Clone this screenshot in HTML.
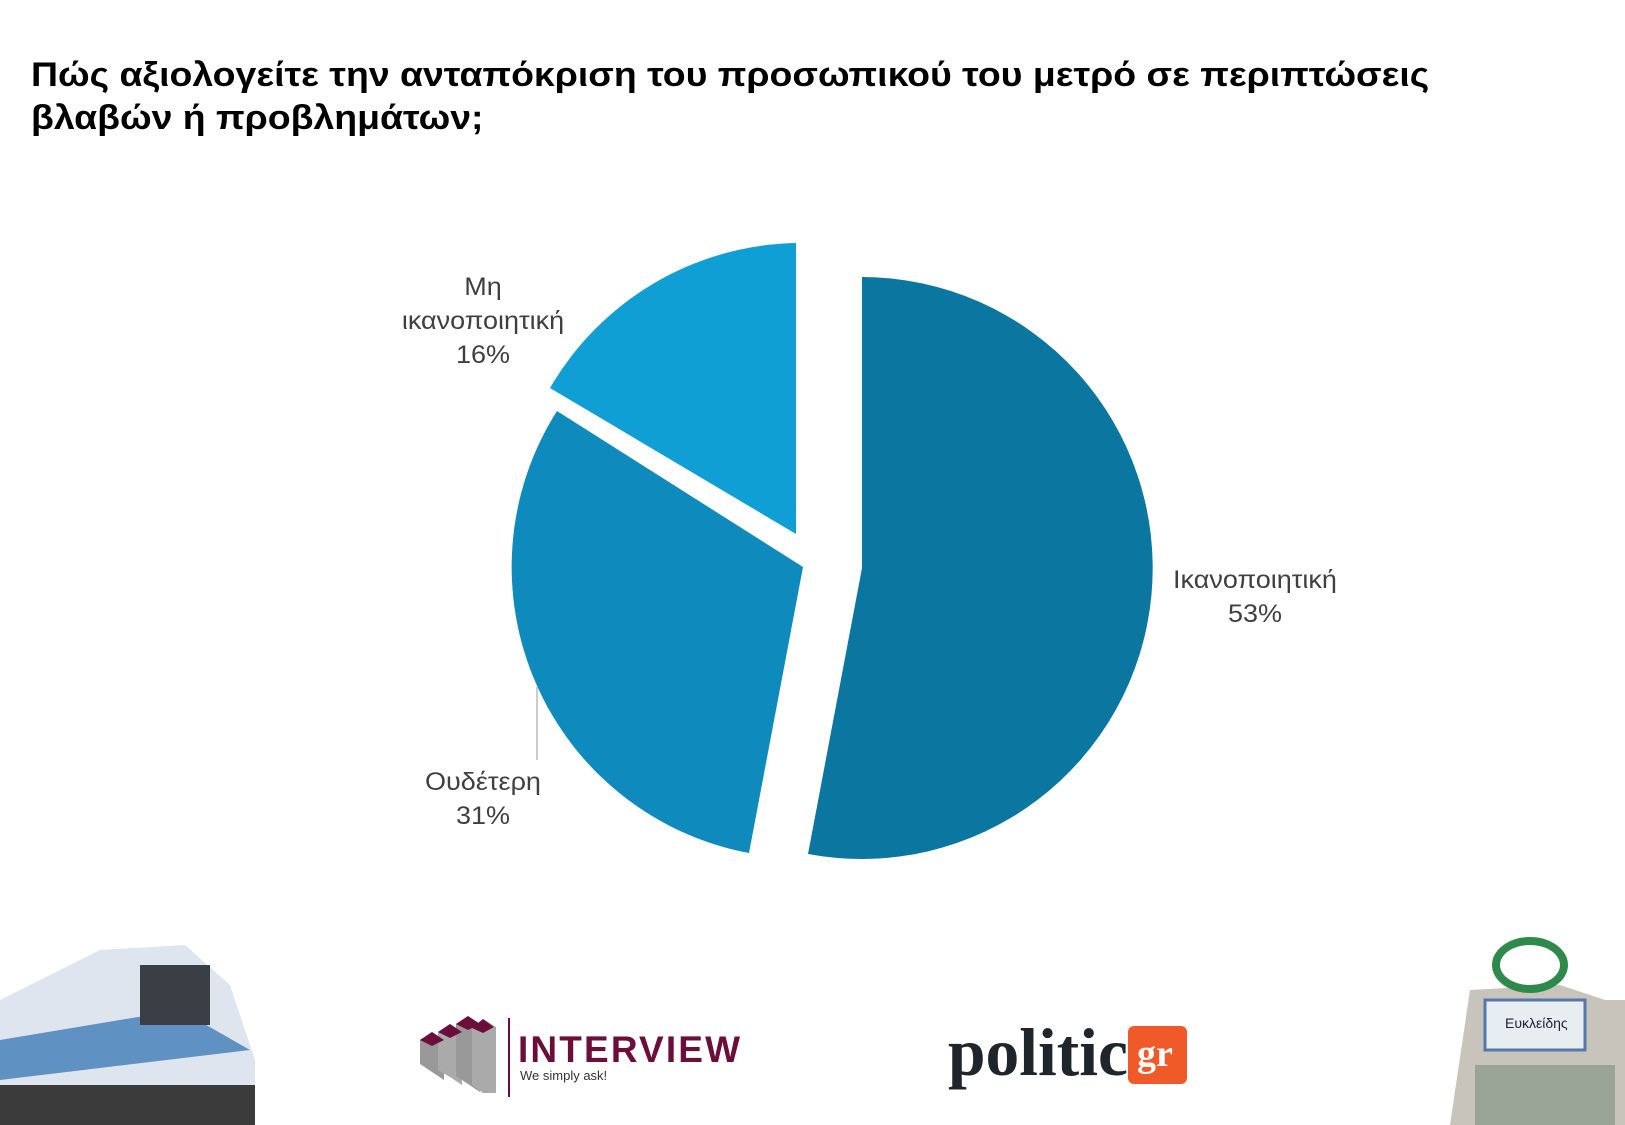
<!DOCTYPE html>
<html><head><meta charset="utf-8"><style>
html,body{margin:0;padding:0;background:#fff;}
body{width:1625px;height:1125px;position:relative;overflow:hidden;font-family:"Liberation Sans",sans-serif;}
.t{position:absolute;left:31px;top:54px;font-size:34px;font-weight:bold;color:#000;line-height:43px;transform:scaleX(1.1);transform-origin:0 0;white-space:nowrap;}
.l{position:absolute;font-size:25px;color:#404040;text-align:center;line-height:34px;transform:scaleX(1.08);}
</style></head><body>
<div class="t">Πώς αξιολογείτε την ανταπόκριση του προσωπικού του μετρό σε περιπτώσεις<br>βλαβών ή προβλημάτων;</div>
<svg width="1625" height="1125" style="position:absolute;left:0;top:0">
<path d="M862,568 L862,277 A291,291 0 1 1 808,854 Z" fill="#0b77a0"/>
<path d="M803,567 L749,853 A291,291 0 0 1 557,411 Z" fill="#0e8abd"/>
<path d="M796,534 L550,388 A291,291 0 0 1 796,243 Z" fill="#109fd4"/>
<line x1="537" y1="687" x2="537" y2="760" stroke="#999" stroke-width="1"/>
<g>
<polygon points="420,1040 432,1032 444,1040 444,1080 432,1072 420,1064" fill="#999"/>
<polygon points="438,1032 450,1024 462,1032 462,1085 450,1077 438,1070" fill="#aaa"/>
<polygon points="456,1024 468,1016 480,1024 480,1092 468,1084 456,1076" fill="#999"/>
<polygon points="472,1028 483,1019 496,1027 496,1093 483,1093 472,1085" fill="#aaa"/>
<polygon points="420,1040 432,1032 444,1040 432,1046" fill="#6b0f3a"/>
<polygon points="438,1032 450,1024 462,1032 450,1038" fill="#6b0f3a"/>
<polygon points="456,1024 468,1016 480,1024 468,1030" fill="#6b0f3a"/>
<polygon points="472,1028 483,1019 494,1027 483,1033" fill="#6b0f3a"/>
<line x1="509" y1="1018" x2="509" y2="1097" stroke="#6b0f3a" stroke-width="2"/>
<text x="518" y="1062" font-family="Liberation Sans" font-weight="bold" font-size="37" fill="#6b0f3a" textLength="222">INTERVIEW</text>
<text x="520" y="1080" font-family="Liberation Sans" font-size="13" fill="#333">We simply ask!</text>
</g>
<text x="948" y="1075" font-family="Liberation Serif" font-weight="bold" font-size="68" fill="#1e252b" textLength="180" lengthAdjust="spacingAndGlyphs">politic</text>
<rect x="1128" y="1026" width="59" height="58" rx="6" fill="#f05a28"/>
<text x="1137" y="1066" font-family="Liberation Serif" font-weight="bold" font-size="38" fill="#fff">gr</text>
<path d="M0,1000 L100,950 L185,945 L230,985 L255,1060 L255,1125 L0,1125 Z" fill="#dfe5ee"/>
<path d="M0,1040 L180,1010 L250,1050 L0,1080 Z" fill="#2a6db0" opacity="0.7"/>
<rect x="140" y="965" width="70" height="60" fill="#3a3f46"/>
<rect x="0" y="1085" width="255" height="40" fill="#3b3b3b"/>
<path d="M1450,1125 L1470,990 L1560,985 L1605,1000 L1625,1000 L1625,1125 Z" fill="#c9c4bb"/>
<ellipse cx="1530" cy="965" rx="38" ry="28" fill="#2d8a4a"/>
<ellipse cx="1530" cy="965" rx="30" ry="20" fill="#fff"/>
<rect x="1485" y="1000" width="100" height="50" fill="#e8edf2" stroke="#5577aa" stroke-width="3"/>
<text x="1505" y="1028" font-family="Liberation Sans" font-size="14" fill="#223">Ευκλείδης</text>
<rect x="1475" y="1065" width="140" height="60" fill="#9aa496"/>
</svg>
<div class="l" style="left:368px;top:270px;width:230px">Μη<br>ικανοποιητική<br>16%</div>
<div class="l" style="left:1140px;top:563px;width:230px">Ικανοποιητική<br>53%</div>
<div class="l" style="left:368px;top:765px;width:230px">Ουδέτερη<br>31%</div>
</body></html>
